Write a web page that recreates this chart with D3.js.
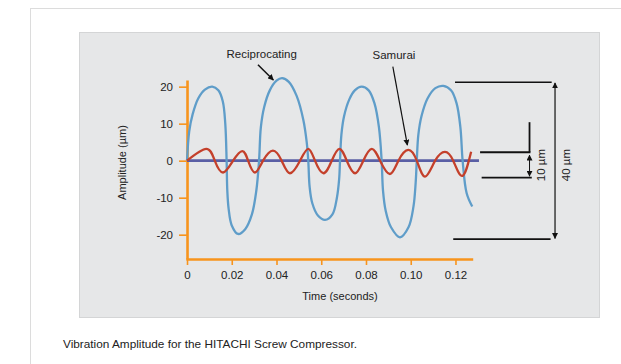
<!DOCTYPE html>
<html>
<head>
<meta charset="utf-8">
<script src="https://cdn.jsdelivr.net/npm/d3@7"></script>
<style>
  body { margin: 0; background: #fff; }
  svg { display: block; font-family: "Liberation Sans", Arial, sans-serif; }
</style>
</head>
<body>
<div id="graph"></div>
<script>
// reciprocating compressor trace (time in s, amplitude in um)
const recipT = [0, 0.0010, 0.0025, 0.0050, 0.0080, 0.0113, 0.0140, 0.0160, 0.0171, 0.0177,
  0.0180, 0.0186, 0.0200, 0.0228, 0.0260, 0.0290, 0.0310, 0.0322,
  0.0330, 0.0345, 0.0370, 0.0400, 0.0425, 0.0455, 0.0490, 0.0520, 0.0535, 0.0542,
  0.0548, 0.0560, 0.0585, 0.0617, 0.0650, 0.0670, 0.0680, 0.0684,
  0.0690, 0.0702, 0.0725, 0.0750, 0.0781, 0.0812, 0.0838, 0.0858, 0.0870,
  0.0876, 0.0888, 0.0912, 0.0952, 0.0990, 0.1012, 0.1022, 0.1027,
  0.1034, 0.1048, 0.1075, 0.1110, 0.1146, 0.1180, 0.1205, 0.1222, 0.1232, 0.1250, 0.1275];
const recipV = [0, 8, 12.5, 16.8, 19.2, 20, 19, 16, 10, 0,
  -8, -13, -17.5, -19.8, -18.5, -14.5, -8, 0,
  9, 14.5, 19, 21.6, 22.3, 21.3, 17.5, 11, 5, 0,
  -7, -11.5, -14.8, -16, -14.5, -10, -5, 0,
  7, 12, 16.5, 19, 20, 19, 15.5, 9, 0,
  -8, -13.5, -18, -20.7, -18, -12.5, -6, 0,
  7, 12, 16.8, 19.6, 20.2, 19, 15.5, 9, 0, -8.8, -12.4];

// Samurai screw compressor trace
const samT = [0, 0.0086, 0.0124, 0.0161, 0.0206, 0.0247, 0.0273, 0.0303, 0.0340, 0.0384, 0.0423, 0.0460,
  0.0505, 0.0542, 0.0572, 0.0610, 0.0647, 0.0681, 0.0714, 0.0751, 0.0788, 0.0826, 0.0863, 0.0907,
  0.0945, 0.0989, 0.1027, 0.1064, 0.1109, 0.1153, 0.1190, 0.1231, 0.1270];
const samV = [0, 3.2, 0, -3.2, 0, 2.6, 0, -3.2, 0, 2.7, 0, -3.4,
  0, 3.2, 0, -3.4, 0, 3.2, 0, -3.4, 0, 3.2, 0, -3.6,
  0, 2.9, 0, -4.3, 0, 2.4, 0, -4.1, 2.4];

const baseT = [0, 0.1305];
const yTicks = [-20, -10, 0, 10, 20];
const xTicks = [0, 0.02, 0.04, 0.06, 0.08, 0.10, 0.12];

const W = 621, H = 364;
const orange = "#f7941d";

const svg = d3.select("#graph").append("svg")
  .attr("width", W)
  .attr("height", H);

// marker for arrows
svg.append("defs").append("marker")
  .attr("id", "arr")
  .attr("viewBox", "0 0 10 10")
  .attr("refX", 9).attr("refY", 5)
  .attr("markerWidth", 6).attr("markerHeight", 6)
  .attr("markerUnits", "userSpaceOnUse")
  .attr("orient", "auto-start-reverse")
  .append("path")
  .attr("d", "M0,0 L10,5 L0,10 z")
  .attr("fill", "#111");

// outer frame + grey panel
svg.append("rect").attr("x", 30.5).attr("y", 8.5).attr("width", 640).attr("height", 400)
  .attr("fill", "#fff").attr("stroke", "#dcdcdc");
svg.append("rect").attr("x", 79.5).attr("y", 32.5).attr("width", 520).attr("height", 285)
  .attr("fill", "#e6e7e8").attr("stroke", "#d4d5d6");

// scales
const x = d3.scaleLinear().domain([-0.0005, 0.1277]).range([185.9, 472.7]);
const y = d3.scaleLinear().domain([-26.57, 21.8]).range([259, 80]);

// axes
const yAxis = svg.append("g")
  .attr("transform", "translate(" + x(0) + ",0)")
  .call(d3.axisLeft(y).tickValues(yTicks).tickSize(8).tickSizeOuter(0).tickPadding(6)
    .tickFormat(d => String(d)));
const xAxis = svg.append("g")
  .attr("transform", "translate(0," + y.range()[0] + ")")
  .call(d3.axisBottom(x).tickValues(xTicks).tickSize(6).tickSizeOuter(0).tickPadding(6)
    .tickFormat(d => d === 0 ? "0" : d3.format(".2f")(d)));
[xAxis, yAxis].forEach(a => {
  a.select(".domain").attr("stroke", orange).attr("stroke-width", 2.6);
  a.selectAll(".tick line").attr("stroke", orange).attr("stroke-width", 1.6);
  a.selectAll(".tick text").attr("fill", "#222").style("font-size", "11.5px")
    .style("font-family", "'Liberation Sans', Arial, sans-serif");
});

// axis titles
svg.append("text")
  .attr("transform", "translate(123," + y(-0.5) + ") rotate(-90)")
  .attr("text-anchor", "middle").attr("dominant-baseline", "middle")
  .style("font-size", "11px").attr("fill", "#222")
  .text("Amplitude (µm)");
svg.append("text")
  .attr("x", 340).attr("y", 300)
  .attr("text-anchor", "middle")
  .style("font-size", "11px").attr("fill", "#222")
  .text("Time (seconds)");

// baseline
svg.append("line")
  .attr("x1", x(baseT[0])).attr("x2", x(baseT[1]))
  .attr("y1", y(0)).attr("y2", y(0))
  .attr("stroke", "#5a5fa5").attr("stroke-width", 2.6);

const line = d3.line().curve(d3.curveCatmullRom.alpha(0.5));

// reciprocating
svg.append("path")
  .attr("d", line(recipT.map((t, i) => [x(t), y(recipV[i])])))
  .attr("fill", "none").attr("stroke", "#5f9dc9").attr("stroke-width", 2.3);

// samurai - smoother spline for the sine-like trace
svg.append("path")
  .attr("d", d3.line().curve(d3.curveNatural)(samT.map((t, i) => [x(t), y(samV[i])])))
  .attr("fill", "none").attr("stroke", "#c4402b").attr("stroke-width", 2.3);

// annotations
function label(t, v, txt) {
  return svg.append("text")
    .attr("x", x(t)).attr("y", y(v))
    .attr("text-anchor", "middle").attr("dominant-baseline", "middle")
    .style("font-size", "11.5px").attr("fill", "#222")
    .text(txt);
}
function seg(t1, v1, t2, v2, w, mStart, mEnd) {
  const l = svg.append("line")
    .attr("x1", x(t1)).attr("y1", y(v1)).attr("x2", x(t2)).attr("y2", y(v2))
    .attr("stroke", "#111").attr("stroke-width", w);
  if (mStart) l.attr("marker-start", "url(#arr)");
  if (mEnd) l.attr("marker-end", "url(#arr)");
}

label(0.0334, 28.6, "Reciprocating");
seg(0.0317, 25.9, 0.0386, 21.8, 1.5, false, true);
label(0.0925, 28.3, "Samurai");
seg(0.0920, 25.4, 0.0985, 4.2, 1.2, false, true);

// 40 um bracket
seg(0.1198, 21.2, 0.1630, 21.2, 1.6);
seg(0.1190, -21.2, 0.1625, -21.2, 1.6);
seg(0.1645, 21.0, 0.1645, -21.0, 1.2, true, true);
svg.append("text")
  .attr("transform", "translate(" + x(0.1697) + "," + y(-1.2) + ") rotate(-90)")
  .attr("text-anchor", "middle").attr("dominant-baseline", "middle")
  .style("font-size", "11.5px").attr("fill", "#222").text("40 µm");

// 10 um bracket
seg(0.1310, 2.27, 0.1535, 2.27, 1.8);
seg(0.1531, 2.27, 0.1531, 10.4, 1.8);
seg(0.1317, -4.6, 0.1541, -4.6, 1.8);
seg(0.1531, 1.5, 0.1531, -4.2, 1.0, true, true);
svg.append("text")
  .attr("transform", "translate(" + x(0.1586) + "," + y(-1.2) + ") rotate(-90)")
  .attr("text-anchor", "middle").attr("dominant-baseline", "middle")
  .style("font-size", "11.5px").attr("fill", "#222").text("10 µm");

// caption
svg.append("text")
  .attr("x", 63).attr("y", 348)
  .style("font-size", "11.8px").attr("fill", "#222")
  .text("Vibration Amplitude for the HITACHI Screw Compressor.");
</script>
</body>
</html>
